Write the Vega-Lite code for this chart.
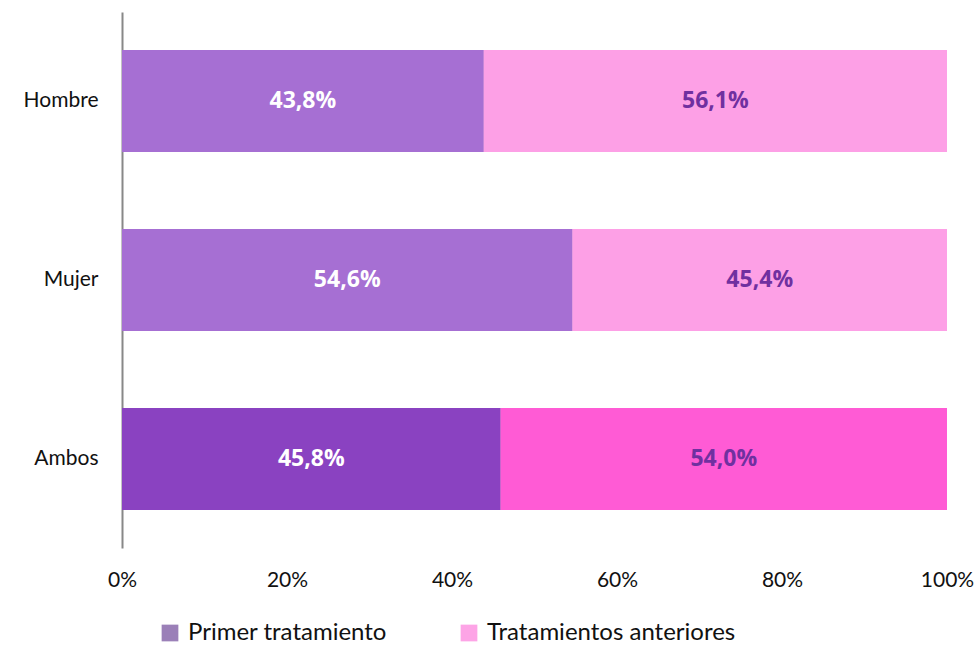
{
  "$schema": "https://vega.github.io/schema/vega-lite/v6.json",
  "width": 825,
  "height": 536,
  "autosize": {"type": "none"},
  "padding": {"left": 122, "top": 12, "right": 31, "bottom": 99},
  "config": {
    "view": {"stroke": null},
    "locale": {"number": {"decimal": ",", "thousands": ".", "grouping": [3], "currency": ["", " €"]}},
    "font": "Lato"
  },
  "data": {
    "values": [
      {"grupo": "Hombre", "serie": "Primer tratamiento", "segmento": "Hombre/Mujer · Primer", "valor": 0.438},
      {"grupo": "Hombre", "serie": "Tratamientos anteriores", "segmento": "Hombre/Mujer · Anteriores", "valor": 0.561},
      {"grupo": "Mujer", "serie": "Primer tratamiento", "segmento": "Hombre/Mujer · Primer", "valor": 0.546},
      {"grupo": "Mujer", "serie": "Tratamientos anteriores", "segmento": "Hombre/Mujer · Anteriores", "valor": 0.454},
      {"grupo": "Ambos", "serie": "Primer tratamiento", "segmento": "Ambos · Primer", "valor": 0.458},
      {"grupo": "Ambos", "serie": "Tratamientos anteriores", "segmento": "Ambos · Anteriores", "valor": 0.540}
    ]
  },
  "encoding": {
    "y": {
      "field": "grupo", "type": "nominal", "sort": ["Hombre", "Mujer", "Ambos"],
      "scale": {"paddingInner": 0.43, "paddingOuter": 0.212},
      "axis": {
        "title": null, "ticks": false, "domain": true, "domainColor": "#888888", "domainWidth": 2,
        "labelFontSize": 21, "labelColor": "#111111", "labelPadding": 24, "labelFont": "Lato"
      }
    }
  },
  "layer": [
    {
      "mark": {"type": "bar"},
      "encoding": {
        "x": {
          "field": "valor", "type": "quantitative", "stack": "normalize",
          "scale": {"domain": [0, 1]},
          "axis": {
            "title": null, "format": ".0%", "values": [0, 0.2, 0.4, 0.6, 0.8, 1],
            "grid": false, "ticks": false, "domain": false, "labelFlush": false,
            "labelFontSize": 21, "labelColor": "#111111", "labelPadding": 21, "labelFont": "Lato"
          }
        },
        "color": {
          "field": "serie", "type": "nominal",
          "scale": {"domain": ["Primer tratamiento", "Tratamientos anteriores"], "range": ["#9b80b8", "#fda4e6"]},
          "legend": {
            "title": null, "orient": "none", "direction": "horizontal",
            "legendX": 36, "legendY": 609,
            "symbolType": "square", "symbolSize": 280, "symbolStrokeWidth": 0,
            "labelFontSize": 24, "labelColor": "#111111", "labelFont": "Lato", "labelLimit": 400,
            "columnPadding": 70, "labelOffset": 6
          }
        },
        "order": {"field": "serie", "sort": "ascending"}
      }
    },
    {
      "mark": {"type": "bar"},
      "encoding": {
        "x": {"field": "valor", "type": "quantitative", "stack": "normalize"},
        "fill": {
          "field": "segmento", "type": "nominal",
          "scale": {
            "domain": ["Hombre/Mujer · Primer", "Hombre/Mujer · Anteriores", "Ambos · Primer", "Ambos · Anteriores"],
            "range": ["#a66fd3", "#fda0e6", "#8a42c1", "#ff5bd5"]
          },
          "legend": null
        },
        "order": {"field": "serie", "sort": "ascending"}
      }
    },
    {
      "mark": {"type": "text", "fontSize": 23, "fontWeight": "bold", "font": "Open Sans", "baseline": "middle", "align": "center"},
      "encoding": {
        "x": {"field": "valor", "type": "quantitative", "stack": "normalize", "bandPosition": 0.5},
        "detail": {"field": "serie"},
        "order": {"field": "serie", "sort": "ascending"},
        "text": {"field": "valor", "type": "quantitative", "format": ".1%"},
        "fill": {
          "condition": {"test": "datum.serie == 'Primer tratamiento'", "value": "#ffffff"},
          "value": "#7030a0"
        }
      }
    }
  ]
}
